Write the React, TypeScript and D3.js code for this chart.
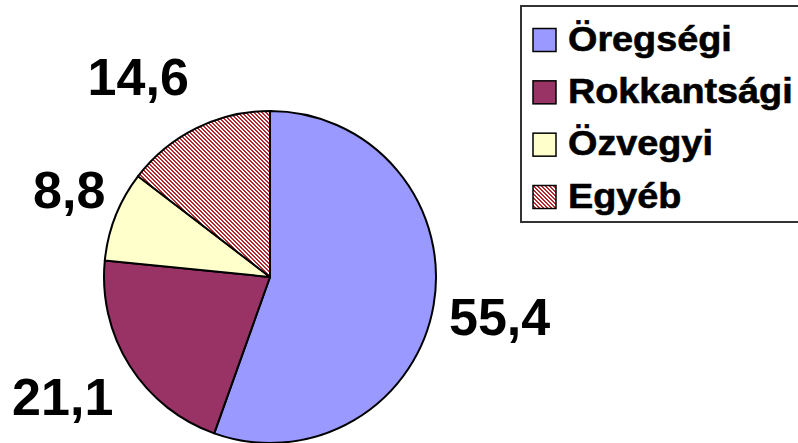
import React, { useEffect, useRef } from 'react';
import * as d3 from 'd3';

// chart data
const categories = ['Öregségi', 'Rokkantsági', 'Özvegyi', 'Egyéb'];
const values = [55.4, 21.1, 8.8, 14.6];
const valueLabels = ['55,4', '21,1', '8,8', '14,6'];
const colors = ['#9999FF', '#993366', '#FFFFCC', 'url(#hatch)'];

const W = 798;
const H = 443;

const App: React.FC = () => {
  const svgRef = useRef<SVGSVGElement>(null);

  useEffect(() => {
    if (!svgRef.current) return;
    const svg = d3.select(svgRef.current);
    svg.selectAll('*').remove();

    // hatch pattern for the last slice
    const defs = svg.append('defs');
    const pat = defs.append('pattern')
      .attr('id', 'hatch')
      .attr('patternUnits', 'userSpaceOnUse')
      .attr('width', 4)
      .attr('height', 4);
    pat.append('rect').attr('width', 4).attr('height', 4).attr('fill', '#fff');
    [[0, 0], [1, 0], [1, 1], [2, 1], [2, 2], [3, 2], [3, 3], [0, 3]].forEach(([x, y]) => {
      pat.append('rect').attr('x', x).attr('y', y).attr('width', 1).attr('height', 1).attr('fill', '#b8262e');
    });

    const cx = 270;
    const cy = 277;
    const r = 166;

    const pie = d3.pie<number>().sort(null).value(d => d);
    const arcs = pie(values);
    const arc = d3.arc<d3.PieArcDatum<number>>().innerRadius(0).outerRadius(r);

    const g = svg.append('g').attr('transform', `translate(${cx},${cy})`);

    g.selectAll('path.slice')
      .data(arcs)
      .enter()
      .append('path')
      .attr('class', 'slice')
      .attr('d', arc)
      .attr('fill', (d, i) => colors[i])
      .attr('stroke', '#000')
      .attr('stroke-width', 2)
      .attr('stroke-linejoin', 'round');

    // labels placed outside each slice along its mid angle
    const labelRadius = [233, 239, 219, 240];
    const labelTurn = [0, 2.5, 2, -7]; // degrees, small nudges like the hand-placed labels
    g.selectAll('text.val')
      .data(arcs)
      .enter()
      .append('text')
      .attr('class', 'val')
      .attr('x', (d, i) => {
        const a = (d.startAngle + d.endAngle) / 2 + (labelTurn[i] * Math.PI) / 180;
        return Math.sin(a) * labelRadius[i];
      })
      .attr('y', (d, i) => {
        const a = (d.startAngle + d.endAngle) / 2 + (labelTurn[i] * Math.PI) / 180;
        return -Math.cos(a) * labelRadius[i];
      })
      .attr('dy', '0.36em')
      .attr('text-anchor', 'middle')
      .style('font-family', '"Liberation Sans", Arial, sans-serif')
      .style('font-weight', 'bold')
      .style('font-size', '52px')
      .text((d, i) => valueLabels[i]);

    // legend
    const lx = 521;
    const ly = 6;
    const legend = svg.append('g');
    legend.append('rect')
      .attr('x', lx)
      .attr('y', ly)
      .attr('width', W - lx + 10)
      .attr('height', 216)
      .attr('fill', '#fff')
      .attr('stroke', '#333')
      .attr('stroke-width', 2);

    const rowY = d3.scalePoint<string>().domain(categories).range([40, 197]);

    const rows = legend.selectAll('g.row')
      .data(categories)
      .enter()
      .append('g')
      .attr('class', 'row')
      .attr('transform', d => `translate(0,${rowY(d)})`);

    rows.append('rect')
      .attr('x', 533)
      .attr('y', -11.5)
      .attr('width', 23)
      .attr('height', 23)
      .attr('fill', (d, i) => colors[i])
      .attr('stroke', '#000')
      .attr('stroke-width', 1.5);

    rows.append('text')
      .attr('transform', 'translate(568,0) scale(1.08,1)')
      .attr('dy', '0.3em')
      .style('font-family', '"Liberation Sans", Arial, sans-serif')
      .style('font-weight', 'bold')
      .style('font-size', '35px')
      .style('stroke', '#000')
      .style('stroke-width', 0.6)
      .text(d => d);
  }, []);

  return (
    <svg
      ref={svgRef}
      width={W}
      height={H}
      style={{ position: 'fixed', left: 0, top: 0, background: '#fff' }}
    />
  );
};

export default App;
